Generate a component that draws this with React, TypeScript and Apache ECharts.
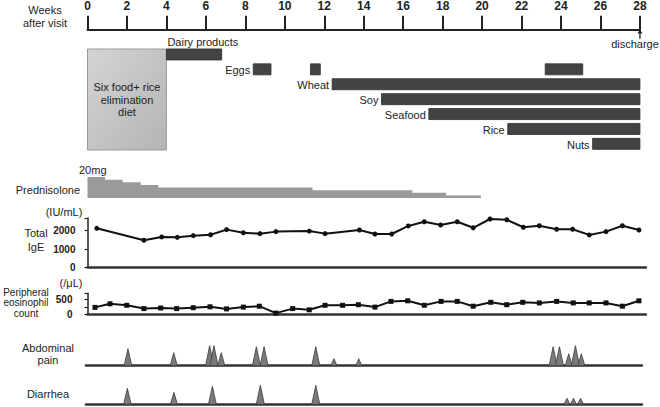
import React, { useEffect, useRef } from "react";
import * as echarts from "echarts";

// ---------- data ----------
const WEEK_MIN = 0;
const WEEK_MAX = 28;
const WEEK_STEP = 2;

const foodNames = ["Dairy products", "Eggs", "Wheat", "Soy", "Seafood", "Rice", "Nuts"];
// [rowIndex, startWeek, endWeek]
const foodBars = [
  [0, 4, 6.8],
  [1, 8.4, 9.3],
  [1, 11.3, 11.8],
  [1, 23.2, 25.1],
  [2, 12.4, 28],
  [3, 14.9, 28],
  [4, 17.3, 28],
  [5, 21.3, 28],
  [6, 25.6, 28],
];
const dietPhase = [0, 4];
const dietLabel = "Six food+ rice\nelimination\ndiet";

const predWeeks = [0, 0.89, 1.78, 2.7, 3.59, 11.4, 16.46, 18.17, 19.94];
const predDose = [20, 17.5, 15, 12.5, 10, 7.5, 5, 2.5, 2.5];

const igeWeeks = [0.47, 2.86, 3.76, 4.55, 5.36, 6.24, 7.05, 7.9, 8.74, 9.55, 11.24, 12.04, 13.78, 14.57, 15.42, 16.26, 17.07, 17.9, 18.74, 19.55, 20.4, 21.25, 22.09, 22.9, 23.78, 24.59, 25.43, 26.28, 27.11, 27.95];
const igeValues = [2130, 1480, 1660, 1640, 1730, 1780, 2060, 1890, 1840, 1950, 1980, 1840, 2040, 1820, 1820, 2260, 2490, 2310, 2490, 2160, 2640, 2600, 2190, 2270, 2080, 2080, 1770, 1950, 2270, 2040];

const eosWeeks = [0.38, 1.14, 1.99, 2.86, 3.71, 4.52, 5.36, 6.21, 7.05, 7.9, 8.71, 9.55, 10.4, 11.24, 12.04, 12.93, 13.73, 14.57, 15.38, 16.23, 17.07, 17.92, 18.74, 19.55, 20.44, 21.25, 22.06, 22.9, 23.78, 24.62, 25.43, 26.28, 27.11, 27.95];
const eosValues = [230, 350, 300, 190, 210, 190, 220, 250, 180, 240, 270, 40, 190, 150, 300, 300, 320, 240, 430, 450, 300, 430, 430, 270, 400, 320, 400, 380, 430, 380, 380, 380, 270, 450];

const abdominalWeeks = [2.05, 4.37, 6.19, 6.41, 6.78, 8.56, 8.95, 11.57, 12.49, 13.75, 23.6, 23.92, 24.39, 24.73, 25.03];
const abdominalHeights = [17, 13, 20, 20, 13, 19, 19, 19, 7, 7, 19, 19, 12, 20, 12];

const diarrheaWeeks = [2.02, 4.38, 6.33, 8.76, 11.57, 24.3, 24.63, 24.99];
const diarrheaHeights = [16, 12, 18, 19, 19, 6, 6, 6];

// ---------- layout ----------
const FONT = '"Liberation Sans", Arial, sans-serif';
const X0 = 87.5;
const PXW = 19.73;
const TXT = "#222";

function txt(text: string, x: number, y: number, align = "center", size = 11, weight = "normal") {
  return {
    type: "text",
    x,
    y,
    style: {
      text,
      fill: TXT,
      font: `${weight} ${size}px ${FONT}`,
      align,
      textAlign: align,
      verticalAlign: "middle",
      textVerticalAlign: "middle",
      lineHeight: size + 1,
    },
  };
}

function triangleRender(params: any, api: any) {
  const w = api.value(0);
  const h = api.value(1);
  const b = api.coord([w, 0]);
  const t = api.coord([w, h]);
  const half = 2.5 + h * 0.08;
  return {
    type: "polygon",
    shape: { points: [[b[0] - half, b[1]], [t[0], t[1]], [b[0] + half, b[1]]] },
    style: { fill: "#7a7a7a", stroke: "#3c3c3c", lineWidth: 0.8 },
  };
}

export default function App() {
  const ref = useRef<HTMLDivElement>(null);
  useEffect(() => {
    if (!ref.current) return;
    const chart = echarts.init(ref.current, null, { renderer: "svg" });

    const hiddenX = (gi: number, min: number, max: number) => ({
      gridIndex: gi, type: "value", min, max, show: false,
    });
    const lineX = (gi: number, min: number, max: number) => ({
      gridIndex: gi, type: "value", min, max,
      axisLine: { show: true, onZero: false, lineStyle: { color: "#333", width: 2.5 } },
      axisTick: { show: false }, axisLabel: { show: false }, splitLine: { show: false },
    });
    const hiddenY = (gi: number, min: number, max: number, inverse = false) => ({
      gridIndex: gi, type: "value", min, max, inverse, show: false,
    });

    const option: any = {
      animation: false,
      textStyle: { fontFamily: FONT },
      grid: [
        { left: X0, top: 28.5, width: PXW * 28, height: 1 }, // 0 top axis
        { left: X0, top: 47, width: PXW * 28, height: 104.3 }, // 1 foods
        { left: X0, top: 177, width: PXW * 28, height: 21 }, // 2 prednisolone
        { left: X0, top: 217.9, width: PXW * 28.3, height: 49.4 }, // 3 IgE
        { left: X0, top: 293.3, width: PXW * 28.3, height: 21 }, // 4 eos
        { left: X0 - 0.08 * PXW, top: 341.7, width: PXW * 28.18, height: 24 }, // 5 abdominal
        { left: X0 - 0.08 * PXW, top: 380.3, width: PXW * 28.18, height: 24 }, // 6 diarrhea
      ],
      xAxis: [
        {
          gridIndex: 0, type: "value", position: "top", min: WEEK_MIN, max: WEEK_MAX, interval: WEEK_STEP,
          axisLine: { show: true, lineStyle: { color: "#222", width: 2 } },
          axisTick: { show: true, length: 14, lineStyle: { color: "#222", width: 2 } },
          axisLabel: { margin: 18, color: TXT, fontWeight: "bold", fontSize: 12, fontFamily: FONT },
          splitLine: { show: false },
        },
        hiddenX(1, WEEK_MIN, WEEK_MAX),
        hiddenX(2, WEEK_MIN, WEEK_MAX),
        lineX(3, 0, 28.3),
        lineX(4, 0, 28.3),
        lineX(5, -0.08, 28.1),
        lineX(6, -0.08, 28.1),
      ],
      yAxis: [
        hiddenY(0, 0, 1),
        hiddenY(1, -0.5, 6.5, true),
        hiddenY(2, 0, 20),
        {
          gridIndex: 3, type: "value", min: 0, max: 2700, interval: 1000,
          axisLine: { show: true, lineStyle: { color: "#222", width: 1.5 } },
          axisTick: { show: true, length: 3, lineStyle: { color: "#222", width: 1.2 } },
          axisLabel: {
            margin: 12, color: TXT, fontWeight: "bold", fontSize: 10, fontFamily: FONT,
            formatter: (v: number) => (v % 1000 === 0 ? String(v) : ""),
          },
          splitLine: { show: false },
        },
        {
          gridIndex: 4, type: "value", min: 0, max: 700, interval: 250,
          axisLine: { show: true, lineStyle: { color: "#222", width: 1.5 } },
          axisTick: { show: true, length: 3, lineStyle: { color: "#222", width: 1.2 } },
          axisLabel: {
            margin: 15, color: TXT, fontWeight: "bold", fontSize: 10, fontFamily: FONT,
            formatter: (v: number) => (v % 500 === 0 ? String(v) : ""),
          },
          splitLine: { show: false },
        },
        hiddenY(5, 0, 24),
        hiddenY(6, 0, 24),
      ],
      series: [
        {
          type: "custom",
          xAxisIndex: 1, yAxisIndex: 1,
          data: [dietPhase],
          encode: { x: [0, 1] },
          renderItem: (params: any, api: any) => {
            const p0 = api.coord([api.value(0), -0.5]);
            const p1 = api.coord([api.value(1), 6.5]);
            const x = p0[0], y = p0[1] + 2, w = p1[0] - p0[0], h = p1[1] - p0[1] - 3.3;
            return {
              type: "group",
              children: [
                {
                  type: "rect",
                  shape: { x, y, width: w, height: h },
                  style: {
                    fill: new echarts.graphic.LinearGradient(0, 0, 1, 1, [
                      { offset: 0, color: "#d4d4d4" },
                      { offset: 1, color: "#b4b4b4" },
                    ]),
                    stroke: "#9a9a9a",
                    lineWidth: 1,
                  },
                },
                {
                  type: "text",
                  x: x + w / 2,
                  y: y + h / 2,
                  style: {
                    text: dietLabel, fill: TXT, font: `11px ${FONT}`,
                    align: "center", textAlign: "center",
                    verticalAlign: "middle", textVerticalAlign: "middle", lineHeight: 12.3,
                  },
                },
              ],
            };
          },
        },
        {
          type: "custom",
          xAxisIndex: 1, yAxisIndex: 1,
          data: foodBars,
          encode: { x: [1, 2], y: 0 },
          renderItem: (params: any, api: any) => {
            const row = api.value(0);
            const s = api.value(1);
            const e = api.value(2);
            const p0 = api.coord([s, row]);
            const p1 = api.coord([e, row]);
            const h = api.size([0, 1])[1] * 0.74;
            const children: any[] = [
              {
                type: "rect",
                shape: { x: p0[0], y: p0[1] - h / 2, width: p1[0] - p0[0], height: h },
                style: { fill: "#434343", stroke: "#2e2e2e", lineWidth: 0.8 },
              },
            ];
            const first = foodBars.findIndex((b) => b[0] === row) === params.dataIndex;
            if (first) {
              const above = row === 0;
              children.push({
                type: "text",
                x: above ? p0[0] + 1 : p0[0] - 3,
                y: above ? p0[1] - h / 2 - 7 : p0[1] + 1,
                style: {
                  text: foodNames[row], fill: TXT, font: `11px ${FONT}`,
                  align: above ? "left" : "right", textAlign: above ? "left" : "right",
                  verticalAlign: "middle", textVerticalAlign: "middle",
                },
              });
            }
            return { type: "group", children };
          },
        },
        {
          type: "line",
          xAxisIndex: 2, yAxisIndex: 2,
          data: predWeeks.map((w, i) => [w, predDose[i]]),
          step: "end",
          symbol: "none",
          lineStyle: { width: 0, color: "#9a9a9a" },
          areaStyle: { color: "#9a9a9a", opacity: 1 },
        },
        {
          type: "line",
          xAxisIndex: 3, yAxisIndex: 3,
          data: igeWeeks.map((w, i) => [w, igeValues[i]]),
          symbol: "circle", symbolSize: 5,
          itemStyle: { color: "#111" },
          lineStyle: { color: "#111", width: 2 },
        },
        {
          type: "line",
          xAxisIndex: 4, yAxisIndex: 4,
          data: eosWeeks.map((w, i) => [w, eosValues[i]]),
          symbol: "rect", symbolSize: 5,
          itemStyle: { color: "#111" },
          lineStyle: { color: "#111", width: 2 },
        },
        {
          type: "custom",
          xAxisIndex: 5, yAxisIndex: 5,
          data: abdominalWeeks.map((w, i) => [w, abdominalHeights[i]]),
          renderItem: triangleRender,
        },
        {
          type: "custom",
          xAxisIndex: 6, yAxisIndex: 6,
          data: diarrheaWeeks.map((w, i) => [w, diarrheaHeights[i]]),
          renderItem: triangleRender,
        },
      ],
      graphic: [
        txt("Weeks", 45, 10),
        txt("after visit", 45, 23),
        { type: "line", shape: { x1: X0 + 28 * PXW, y1: 39, x2: X0 + 28 * PXW, y2: 32 }, style: { stroke: "#222", lineWidth: 1.3 } },
        { type: "polygon", shape: { points: [[X0 + 28 * PXW - 2.5, 33.5], [X0 + 28 * PXW, 29.5], [X0 + 28 * PXW + 2.5, 33.5]] }, style: { fill: "#222" } },
        txt("discharge", 635, 44),
        txt("20mg", 79, 170, "left"),
        txt("Prednisolone", 80, 190, "right"),
        txt("(IU/mL)", 64, 212),
        txt("Total", 36, 233),
        txt("IgE", 36, 247),
        txt("(/\u03bcL)", 71, 283),
        txt("Peripheral", 26, 292, "center", 10),
        txt("eosinophil", 26, 302.5, "center", 10),
        txt("count", 26, 313, "center", 10),
        txt("Abdominal", 48, 348),
        txt("pain", 48, 360),
        txt("Diarrhea", 48, 394),
      ],
    };
    chart.setOption(option);
    return () => chart.dispose();
  }, []);
  return (
    <div
      ref={ref}
      style={{ position: "fixed", left: 0, top: 0, width: 660, height: 407, background: "#fff" }}
    />
  );
}
